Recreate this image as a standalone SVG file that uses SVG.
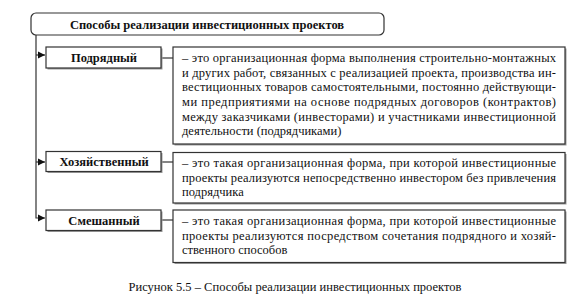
<svg xmlns="http://www.w3.org/2000/svg" width="578" height="300" viewBox="0 0 578 300">
<defs>
<style>
.box{fill:#fff;stroke:#333;stroke-width:1.2}
.sh{fill:#999}
.ln{stroke:#333;stroke-width:1.2;fill:none}
.lbl{font-family:"Liberation Serif",serif;font-size:12.5px;font-weight:bold;fill:#111;text-anchor:middle}
.t{font-family:"Liberation Serif",serif;font-size:12.5px;fill:#111}
.cap{font-family:"Liberation Serif",serif;font-size:12.5px;fill:#111;text-anchor:middle}
</style>
<marker id="ar" markerWidth="8" markerHeight="8" refX="7" refY="4" orient="auto" markerUnits="userSpaceOnUse">
<path d="M0,0.5 L7,4 L0,7.5 Z" fill="#111"/>
</marker>
</defs>
<rect width="578" height="300" fill="#fff"/>
<g id="connectors">
<path class="ln" d="M36,35 V218 H45" marker-end="url(#ar)"/>
<path class="ln" d="M36,55 H45" marker-end="url(#ar)"/>
<path class="ln" d="M36,162 H45" marker-end="url(#ar)"/>
<path class="ln" d="M161,58 H173"/>
<path class="ln" d="M161,162 H173"/>
<path class="ln" d="M161,220 H173"/>
</g>
<g id="title">
<rect class="box" x="31" y="13" width="353" height="22" rx="5"/>
<text class="lbl" x="207" y="29">Способы реализации инвестиционных проектов</text>
</g>
<g id="n1">
<rect class="sh" x="47.5" y="48.5" width="115" height="21"/>
<rect class="box" x="46" y="47" width="115" height="21"/>
<text class="lbl" x="104" y="62">Подрядный</text>
</g>
<g id="d1">
<rect class="sh" x="174.5" y="48.5" width="392" height="97"/>
<rect class="box" x="173" y="47" width="392" height="97"/>
<text class="t" x="182" y="62" textLength="374" lengthAdjust="spacing">– это организационная форма выполнения строительно-монтажных</text>
<text class="t" x="182" y="76.5" textLength="374" lengthAdjust="spacing">и других работ, связанных с реализацией проекта, производства ин-</text>
<text class="t" x="182" y="91" textLength="374" lengthAdjust="spacing">вестиционных товаров самостоятельными, постоянно действующи-</text>
<text class="t" x="182" y="106" textLength="374" lengthAdjust="spacing">ми предприятиями на основе подрядных договоров (контрактов)</text>
<text class="t" x="182" y="120.5" textLength="374" lengthAdjust="spacing">между заказчиками (инвесторами) и участниками инвестиционной</text>
<text class="t" x="182" y="135">деятельности (подрядчиками)</text>
</g>
<g id="n2">
<rect class="sh" x="47.5" y="153" width="115" height="20"/>
<rect class="box" x="46" y="151.5" width="115" height="20"/>
<text class="lbl" x="104" y="166">Хозяйственный</text>
</g>
<g id="d2">
<rect class="sh" x="174.5" y="154" width="392" height="50.5"/>
<rect class="box" x="173" y="152.5" width="392" height="50.5"/>
<text class="t" x="182" y="167" textLength="374" lengthAdjust="spacing">– это такая организационная форма, при которой инвестиционные</text>
<text class="t" x="182" y="181.5" textLength="374" lengthAdjust="spacing">проекты реализуются непосредственно инвестором без привлечения</text>
<text class="t" x="182" y="196">подрядчика</text>
</g>
<g id="n3">
<rect class="sh" x="47.5" y="211.5" width="115" height="20.5"/>
<rect class="box" x="46" y="210" width="115" height="20.5"/>
<text class="lbl" x="104" y="224.5">Смешанный</text>
</g>
<g id="d3">
<rect class="sh" x="174.5" y="211.5" width="392" height="52.5"/>
<rect class="box" x="173" y="210" width="392" height="52.5"/>
<text class="t" x="182" y="225" textLength="374" lengthAdjust="spacing">– это такая организационная форма, при которой инвестиционные</text>
<text class="t" x="182" y="239.5" textLength="374" lengthAdjust="spacing">проекты реализуются посредством сочетания подрядного и хозяй-</text>
<text class="t" x="182" y="254">ственного способов</text>
</g>
<text class="cap" x="295" y="291">Рисунок 5.5 – Способы реализации инвестиционных проектов</text>
</svg>
